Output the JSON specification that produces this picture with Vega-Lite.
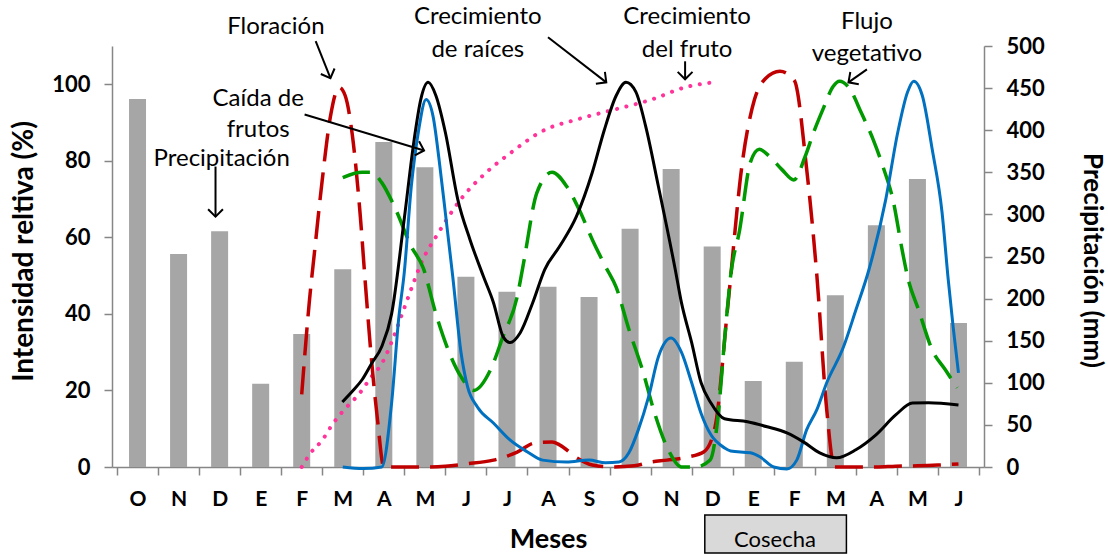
{
  "$schema": "https://vega.github.io/schema/vega-lite/v6.json",
  "width": 872,
  "height": 421,
  "autosize": {"type": "none"},
  "padding": {"left": 112, "top": 46, "right": 124, "bottom": 87},
  "background": "white",
  "config": {"view": {"stroke": null}, "font": "Lato"},
  "datasets": {
    "rain": [
      {"x": 0, "mm": 437}, {"x": 1, "mm": 253}, {"x": 2, "mm": 280}, {"x": 3, "mm": 99},
      {"x": 4, "mm": 158}, {"x": 5, "mm": 235}, {"x": 6, "mm": 386}, {"x": 7, "mm": 356},
      {"x": 8, "mm": 226}, {"x": 9, "mm": 208}, {"x": 10, "mm": 214}, {"x": 11, "mm": 202},
      {"x": 12, "mm": 283}, {"x": 13, "mm": 354}, {"x": 14, "mm": 262}, {"x": 15, "mm": 102},
      {"x": 16, "mm": 125}, {"x": 17, "mm": 204}, {"x": 18, "mm": 287}, {"x": 19, "mm": 342},
      {"x": 20, "mm": 171}
    ],
    "lines": [
      {"s": "fruto", "x": 4.0, "y": 0}, {"s": "fruto", "x": 4.22, "y": 3.7}, {"s": "fruto", "x": 4.5, "y": 7},
      {"s": "fruto", "x": 4.74, "y": 11}, {"s": "fruto", "x": 4.99, "y": 14.4}, {"s": "fruto", "x": 5.42, "y": 19.4},
      {"s": "fruto", "x": 5.7, "y": 23.6}, {"s": "fruto", "x": 5.95, "y": 27}, {"s": "fruto", "x": 6.24, "y": 34},
      {"s": "fruto", "x": 6.48, "y": 41}, {"s": "fruto", "x": 6.72, "y": 48}, {"s": "fruto", "x": 6.9, "y": 53},
      {"s": "fruto", "x": 7.32, "y": 61}, {"s": "fruto", "x": 7.88, "y": 70}, {"s": "fruto", "x": 8.5, "y": 77},
      {"s": "fruto", "x": 9.08, "y": 82}, {"s": "fruto", "x": 9.85, "y": 87.7}, {"s": "fruto", "x": 10.77, "y": 91},
      {"s": "fruto", "x": 11.66, "y": 93.5}, {"s": "fruto", "x": 12.52, "y": 96}, {"s": "fruto", "x": 13.34, "y": 99.2},
      {"s": "fruto", "x": 14.02, "y": 100.5},

      {"s": "flor", "x": 4.0, "y": 19}, {"s": "flor", "x": 4.19, "y": 43.7}, {"s": "flor", "x": 4.31, "y": 56},
      {"s": "flor", "x": 4.5, "y": 75}, {"s": "flor", "x": 4.7, "y": 91.6}, {"s": "flor", "x": 4.91, "y": 99.2},
      {"s": "flor", "x": 5.06, "y": 97}, {"s": "flor", "x": 5.23, "y": 87}, {"s": "flor", "x": 5.42, "y": 66.5},
      {"s": "flor", "x": 5.55, "y": 48}, {"s": "flor", "x": 5.7, "y": 28}, {"s": "flor", "x": 5.85, "y": 12},
      {"s": "flor", "x": 6.0, "y": 0}, {"s": "flor", "x": 6.5, "y": 0}, {"s": "flor", "x": 7.0, "y": 0},
      {"s": "flor", "x": 7.5, "y": 0.2}, {"s": "flor", "x": 8.0, "y": 0.8}, {"s": "flor", "x": 8.67, "y": 1.8},
      {"s": "flor", "x": 9.25, "y": 3.9}, {"s": "flor", "x": 9.68, "y": 6.3}, {"s": "flor", "x": 10.1, "y": 6.5},
      {"s": "flor", "x": 10.28, "y": 5.8}, {"s": "flor", "x": 10.7, "y": 2.4}, {"s": "flor", "x": 11.08, "y": 0.5},
      {"s": "flor", "x": 11.56, "y": 0}, {"s": "flor", "x": 12.1, "y": 0.3}, {"s": "flor", "x": 12.5, "y": 1.3},
      {"s": "flor", "x": 12.9, "y": 1.8}, {"s": "flor", "x": 13.4, "y": 2.6}, {"s": "flor", "x": 13.8, "y": 4},
      {"s": "flor", "x": 14.07, "y": 10.5}, {"s": "flor", "x": 14.38, "y": 42}, {"s": "flor", "x": 14.74, "y": 80},
      {"s": "flor", "x": 15.03, "y": 96}, {"s": "flor", "x": 15.3, "y": 101.5}, {"s": "flor", "x": 15.65, "y": 103.4},
      {"s": "flor", "x": 16.0, "y": 101}, {"s": "flor", "x": 16.3, "y": 78}, {"s": "flor", "x": 16.55, "y": 50},
      {"s": "flor", "x": 16.79, "y": 15}, {"s": "flor", "x": 16.98, "y": 0}, {"s": "flor", "x": 17.5, "y": 0},
      {"s": "flor", "x": 18.0, "y": 0}, {"s": "flor", "x": 18.47, "y": 0.2}, {"s": "flor", "x": 19.0, "y": 0.3},
      {"s": "flor", "x": 19.5, "y": 0.5}, {"s": "flor", "x": 20.0, "y": 0.8},

      {"s": "flujo", "x": 5.0, "y": 75.6}, {"s": "flujo", "x": 5.47, "y": 77}, {"s": "flujo", "x": 5.7, "y": 77},
      {"s": "flujo", "x": 5.95, "y": 74.3}, {"s": "flujo", "x": 6.26, "y": 68}, {"s": "flujo", "x": 6.67, "y": 57.6},
      {"s": "flujo", "x": 6.96, "y": 52}, {"s": "flujo", "x": 7.27, "y": 40}, {"s": "flujo", "x": 7.59, "y": 30},
      {"s": "flujo", "x": 7.88, "y": 23.6}, {"s": "flujo", "x": 8.19, "y": 20}, {"s": "flujo", "x": 8.6, "y": 25.4},
      {"s": "flujo", "x": 8.9, "y": 34}, {"s": "flujo", "x": 9.25, "y": 44.5}, {"s": "flujo", "x": 9.4, "y": 53},
      {"s": "flujo", "x": 9.73, "y": 71.7}, {"s": "flujo", "x": 10.1, "y": 77}, {"s": "flujo", "x": 10.45, "y": 73.4},
      {"s": "flujo", "x": 10.77, "y": 67}, {"s": "flujo", "x": 11.08, "y": 59.4}, {"s": "flujo", "x": 11.4, "y": 52.4},
      {"s": "flujo", "x": 11.66, "y": 47}, {"s": "flujo", "x": 11.97, "y": 36}, {"s": "flujo", "x": 12.3, "y": 25.4},
      {"s": "flujo", "x": 12.6, "y": 14}, {"s": "flujo", "x": 12.93, "y": 4.5}, {"s": "flujo", "x": 13.25, "y": 0},
      {"s": "flujo", "x": 13.6, "y": 0}, {"s": "flujo", "x": 13.95, "y": 1.8}, {"s": "flujo", "x": 14.14, "y": 13},
      {"s": "flujo", "x": 14.3, "y": 33}, {"s": "flujo", "x": 14.45, "y": 50}, {"s": "flujo", "x": 14.67, "y": 62},
      {"s": "flujo", "x": 14.93, "y": 79.6}, {"s": "flujo", "x": 15.15, "y": 83}, {"s": "flujo", "x": 15.41, "y": 81},
      {"s": "flujo", "x": 15.7, "y": 77.7}, {"s": "flujo", "x": 15.99, "y": 75}, {"s": "flujo", "x": 16.26, "y": 81},
      {"s": "flujo", "x": 16.47, "y": 87.4}, {"s": "flujo", "x": 16.7, "y": 93.5}, {"s": "flujo", "x": 16.95, "y": 99.5},
      {"s": "flujo", "x": 17.1, "y": 100.8}, {"s": "flujo", "x": 17.34, "y": 99}, {"s": "flujo", "x": 17.63, "y": 92.6},
      {"s": "flujo", "x": 17.92, "y": 85.6}, {"s": "flujo", "x": 18.16, "y": 78.5}, {"s": "flujo", "x": 18.4, "y": 70},
      {"s": "flujo", "x": 18.64, "y": 56}, {"s": "flujo", "x": 18.76, "y": 49.7}, {"s": "flujo", "x": 19.03, "y": 41},
      {"s": "flujo", "x": 19.36, "y": 30.6}, {"s": "flujo", "x": 19.68, "y": 25.4}, {"s": "flujo", "x": 19.97, "y": 20.7},

      {"s": "caida", "x": 5.0, "y": 0}, {"s": "caida", "x": 5.5, "y": -0.4}, {"s": "caida", "x": 5.95, "y": 0},
      {"s": "caida", "x": 6.19, "y": 16.7}, {"s": "caida", "x": 6.36, "y": 38.5}, {"s": "caida", "x": 6.5, "y": 51},
      {"s": "caida", "x": 6.67, "y": 73.3}, {"s": "caida", "x": 6.84, "y": 87.4}, {"s": "caida", "x": 7.03, "y": 96},
      {"s": "caida", "x": 7.2, "y": 91.6}, {"s": "caida", "x": 7.35, "y": 80}, {"s": "caida", "x": 7.51, "y": 65.4},
      {"s": "caida", "x": 7.68, "y": 49.7}, {"s": "caida", "x": 7.88, "y": 30}, {"s": "caida", "x": 8.04, "y": 21},
      {"s": "caida", "x": 8.28, "y": 15.7}, {"s": "caida", "x": 8.67, "y": 11.5}, {"s": "caida", "x": 9.08, "y": 7},
      {"s": "caida", "x": 9.49, "y": 4}, {"s": "caida", "x": 9.87, "y": 1.8}, {"s": "caida", "x": 10.45, "y": 1.3},
      {"s": "caida", "x": 11.0, "y": 1.8}, {"s": "caida", "x": 11.4, "y": 1.1}, {"s": "caida", "x": 11.73, "y": 1.3},
      {"s": "caida", "x": 11.97, "y": 3.7}, {"s": "caida", "x": 12.2, "y": 9.7}, {"s": "caida", "x": 12.45, "y": 18.3},
      {"s": "caida", "x": 12.69, "y": 28.8}, {"s": "caida", "x": 13.0, "y": 33.7}, {"s": "caida", "x": 13.25, "y": 30},
      {"s": "caida", "x": 13.5, "y": 22}, {"s": "caida", "x": 13.73, "y": 14}, {"s": "caida", "x": 13.97, "y": 8.4},
      {"s": "caida", "x": 14.3, "y": 5}, {"s": "caida", "x": 14.45, "y": 4.2}, {"s": "caida", "x": 14.93, "y": 3.7},
      {"s": "caida", "x": 15.17, "y": 2.6}, {"s": "caida", "x": 15.5, "y": 0}, {"s": "caida", "x": 15.82, "y": -0.5},
      {"s": "caida", "x": 16.06, "y": 1.8}, {"s": "caida", "x": 16.3, "y": 9.7}, {"s": "caida", "x": 16.55, "y": 15},
      {"s": "caida", "x": 16.79, "y": 22}, {"s": "caida", "x": 17.2, "y": 31.4}, {"s": "caida", "x": 17.5, "y": 41},
      {"s": "caida", "x": 17.82, "y": 51.6}, {"s": "caida", "x": 18.23, "y": 70}, {"s": "caida", "x": 18.52, "y": 87.4},
      {"s": "caida", "x": 18.76, "y": 98}, {"s": "caida", "x": 18.91, "y": 100.8}, {"s": "caida", "x": 19.12, "y": 97},
      {"s": "caida", "x": 19.36, "y": 83}, {"s": "caida", "x": 19.6, "y": 66.5}, {"s": "caida", "x": 19.75, "y": 49},
      {"s": "caida", "x": 19.87, "y": 36.6}, {"s": "caida", "x": 20.0, "y": 24.6},

      {"s": "raices", "x": 4.99, "y": 17}, {"s": "raices", "x": 5.25, "y": 20}, {"s": "raices", "x": 5.47, "y": 22.8},
      {"s": "raices", "x": 5.7, "y": 27}, {"s": "raices", "x": 5.95, "y": 31.5}, {"s": "raices", "x": 6.19, "y": 40},
      {"s": "raices", "x": 6.5, "y": 65}, {"s": "raices", "x": 6.74, "y": 85.6}, {"s": "raices", "x": 6.9, "y": 96},
      {"s": "raices", "x": 7.08, "y": 100.5}, {"s": "raices", "x": 7.27, "y": 97}, {"s": "raices", "x": 7.5, "y": 87.4},
      {"s": "raices", "x": 7.8, "y": 70}, {"s": "raices", "x": 8.1, "y": 59.4}, {"s": "raices", "x": 8.43, "y": 49.7},
      {"s": "raices", "x": 8.67, "y": 43}, {"s": "raices", "x": 8.91, "y": 34}, {"s": "raices", "x": 9.08, "y": 32.5},
      {"s": "raices", "x": 9.32, "y": 35}, {"s": "raices", "x": 9.63, "y": 43}, {"s": "raices", "x": 9.92, "y": 51.6},
      {"s": "raices", "x": 10.28, "y": 57.6}, {"s": "raices", "x": 10.69, "y": 65.4}, {"s": "raices", "x": 11.08, "y": 77},
      {"s": "raices", "x": 11.37, "y": 88}, {"s": "raices", "x": 11.66, "y": 97}, {"s": "raices", "x": 11.9, "y": 100.5},
      {"s": "raices", "x": 12.14, "y": 98}, {"s": "raices", "x": 12.38, "y": 89}, {"s": "raices", "x": 12.69, "y": 73.3},
      {"s": "raices", "x": 13.1, "y": 51.6}, {"s": "raices", "x": 13.25, "y": 43}, {"s": "raices", "x": 13.5, "y": 32.5},
      {"s": "raices", "x": 13.73, "y": 22}, {"s": "raices", "x": 13.97, "y": 16.7}, {"s": "raices", "x": 14.3, "y": 12.6},
      {"s": "raices", "x": 14.86, "y": 11.8}, {"s": "raices", "x": 15.34, "y": 10.5}, {"s": "raices", "x": 15.82, "y": 8.9},
      {"s": "raices", "x": 16.23, "y": 6.5}, {"s": "raices", "x": 16.62, "y": 3.7}, {"s": "raices", "x": 17.03, "y": 2.4},
      {"s": "raices", "x": 17.5, "y": 4.5}, {"s": "raices", "x": 17.99, "y": 8.4}, {"s": "raices", "x": 18.47, "y": 13.6},
      {"s": "raices", "x": 18.88, "y": 16.7}, {"s": "raices", "x": 19.27, "y": 16.8}, {"s": "raices", "x": 20.0, "y": 16.2}
    ],
    "notes": [
      {"x": 3.37, "y": 114.9, "t": "Floración"},
      {"x": 2.94, "y": 96.1, "t": "Caída de"},
      {"x": 2.94, "y": 88.0, "t": "frutos"},
      {"x": 2.05, "y": 80.4, "t": "Precipitación"},
      {"x": 8.29, "y": 117.5, "t": "Crecimiento"},
      {"x": 8.29, "y": 109.0, "t": "de raíces"},
      {"x": 13.39, "y": 117.5, "t": "Crecimiento"},
      {"x": 13.39, "y": 109.0, "t": "del fruto"},
      {"x": 17.77, "y": 116.2, "t": "Flujo"},
      {"x": 17.77, "y": 107.8, "t": "vegetativo"}
    ],
    "arrows": [
      {"x": 4.70, "y": 101.6, "x2": 4.34, "y2": 111.3},
      {"x": 6.98, "y": 82.7, "x2": 4.07, "y2": 92.1},
      {"x": 1.90, "y": 65.4, "x2": 1.90, "y2": 78.5},
      {"x": 11.42, "y": 100.5, "x2": 10.0, "y2": 112.3},
      {"x": 13.34, "y": 101.3, "x2": 13.34, "y2": 106.0},
      {"x": 17.32, "y": 100.5, "x2": 17.77, "y2": 103.9}
    ],
    "harvest": [
      {"x": 13.82, "x2": 17.27, "y": -12.57, "y2": -22.5, "t": "Cosecha", "tx": 15.53, "ty": -19.1}
    ]
  },
  "encoding": {
    "x": {
      "field": "x",
      "type": "quantitative",
      "scale": {"domain": [-0.5, 20.5], "nice": false, "zero": false},
      "axis": {
        "values": [-0.5, 0, 0.5, 1, 1.5, 2, 2.5, 3, 3.5, 4, 4.5, 5, 5.5, 6, 6.5, 7, 7.5, 8, 8.5, 9, 9.5, 10, 10.5, 11, 11.5, 12, 12.5, 13, 13.5, 14, 14.5, 15, 15.5, 16, 16.5, 17, 17.5, 18, 18.5, 19, 19.5, 20, 20.5],
        "labelExpr": "datum.value % 1 === 0 ? ['O','N','D','E','F','M','A','M','J','J','A','S','O','N','D','E','F','M','A','M','J'][datum.value] : ''",
        "tickOpacity": {"condition": {"test": "datum.value % 1 !== 0", "value": 1}, "value": 0},
        "grid": false,
        "domainColor": "#868686",
        "domainWidth": 1.5,
        "tickColor": "#868686",
        "tickWidth": 1.5,
        "tickSize": 8,
        "labelFont": "Lato",
        "labelFontWeight": "bold",
        "labelFontSize": 21,
        "labelColor": "black",
        "labelPadding": 13,
        "labelOverlap": false,
        "labelFlush": false,
        "title": "Meses",
        "titleFont": "Lato",
        "titleFontSize": 27,
        "titleFontWeight": "bold",
        "titleColor": "black",
        "titleX": 436,
        "titleY": 72,
        "titleBaseline": "middle",
        "titleAlign": "center"
      }
    }
  },
  "layer": [
    {
      "data": {"name": "rain"},
      "mark": {"type": "bar", "orient": "vertical", "width": 17, "color": "#a6a6a6"},
      "encoding": {
        "y": {
          "field": "mm",
          "type": "quantitative",
          "scale": {"domain": [0, 500], "nice": false},
          "axis": {
            "orient": "right",
            "values": [0, 50, 100, 150, 200, 250, 300, 350, 400, 450, 500],
            "grid": false,
            "domainColor": "#868686",
            "domainWidth": 1.5,
            "tickColor": "#868686",
            "tickWidth": 1.5,
            "tickSize": 8,
            "labelFont": "Lato",
            "labelFontWeight": "bold",
            "labelFontSize": 22,
            "labelColor": "black",
            "labelPadding": 14,
            "labelOverlap": false,
            "title": "Precipitación (mm)",
            "titleFont": "Lato",
            "titleFontSize": 26,
            "titleFontWeight": "bold",
            "titleColor": "black",
            "titleAngle": 90,
            "titleX": 107,
            "titleY": 214,
            "titleBaseline": "middle",
            "titleAlign": "center"
          }
        }
      }
    },
    {
      "encoding": {
        "y": {
          "field": "y",
          "type": "quantitative",
          "scale": {"domain": [0, 110], "nice": false},
          "axis": {
            "orient": "left",
            "values": [0, 20, 40, 60, 80, 100],
            "grid": false,
            "domainColor": "#868686",
            "domainWidth": 1.5,
            "tickColor": "#868686",
            "tickWidth": 1.5,
            "tickSize": 8,
            "labelFont": "Lato",
            "labelFontWeight": "bold",
            "labelFontSize": 22,
            "labelColor": "black",
            "labelPadding": 14,
            "labelOverlap": false,
            "title": "Intensidad reltiva (%)",
            "titleFont": "Lato",
            "titleFontSize": 28,
            "titleFontWeight": "bold",
            "titleColor": "black",
            "titleAngle": -90,
            "titleX": -88,
            "titleY": 205,
            "titleBaseline": "middle",
            "titleAlign": "center"
          }
        }
      },
      "layer": [
        {
          "data": {"name": "lines"},
          "transform": [{"filter": "datum.s === 'fruto'"}],
          "mark": {"type": "line", "interpolate": "monotone", "color": "#ff3399", "strokeWidth": 4, "strokeDash": [0.1, 9.5], "strokeCap": "round"}
        },
        {
          "data": {"name": "lines"},
          "transform": [{"filter": "datum.s === 'flor'"}],
          "mark": {"type": "line", "interpolate": "monotone", "color": "#c00000", "strokeWidth": 3.5, "strokeDash": [28, 11]}
        },
        {
          "data": {"name": "lines"},
          "transform": [{"filter": "datum.s === 'flujo'"}],
          "mark": {"type": "line", "interpolate": "monotone", "color": "#009900", "strokeWidth": 3.5, "strokeDash": [28, 11]}
        },
        {
          "data": {"name": "lines"},
          "transform": [{"filter": "datum.s === 'caida'"}],
          "mark": {"type": "line", "interpolate": "monotone", "color": "#0070c0", "strokeWidth": 3}
        },
        {
          "data": {"name": "lines"},
          "transform": [{"filter": "datum.s === 'raices'"}],
          "mark": {"type": "line", "interpolate": "monotone", "color": "black", "strokeWidth": 3}
        },
        {
          "data": {"name": "arrows"},
          "mark": {"type": "rule", "color": "black", "strokeWidth": 2},
          "encoding": {"x2": {"field": "x2"}, "y2": {"field": "y2"}}
        },
        {
          "data": {"name": "arrows"},
          "transform": [
            {"calculate": "atan2(-(datum.y - datum.y2) * 421 / 110, (datum.x - datum.x2) * 872 / 21) * 180 / PI", "as": "ang"}
          ],
          "mark": {"type": "point", "shape": "M -1 -1 L 0 0 L -1 1", "filled": false, "stroke": "black", "strokeWidth": 2, "size": 220, "opacity": 1},
          "encoding": {"angle": {"field": "ang", "type": "quantitative", "scale": null}}
        },
        {
          "data": {"name": "notes"},
          "mark": {"type": "text", "font": "Lato", "fontSize": 24, "color": "black", "align": "center", "baseline": "middle"},
          "encoding": {"text": {"field": "t"}}
        },
        {
          "data": {"name": "harvest"},
          "mark": {"type": "rect", "fill": "#d9d9d9", "stroke": "black", "strokeWidth": 1.5},
          "encoding": {"x2": {"field": "x2"}, "y2": {"field": "y2"}}
        },
        {
          "data": {"name": "harvest"},
          "mark": {"type": "text", "font": "Lato", "fontSize": 22, "color": "black", "align": "center", "baseline": "middle"},
          "encoding": {"x": {"field": "tx", "type": "quantitative"}, "y": {"field": "ty", "type": "quantitative"}, "text": {"field": "t"}}
        }
      ]
    }
  ],
  "resolve": {"scale": {"y": "independent"}}
}
